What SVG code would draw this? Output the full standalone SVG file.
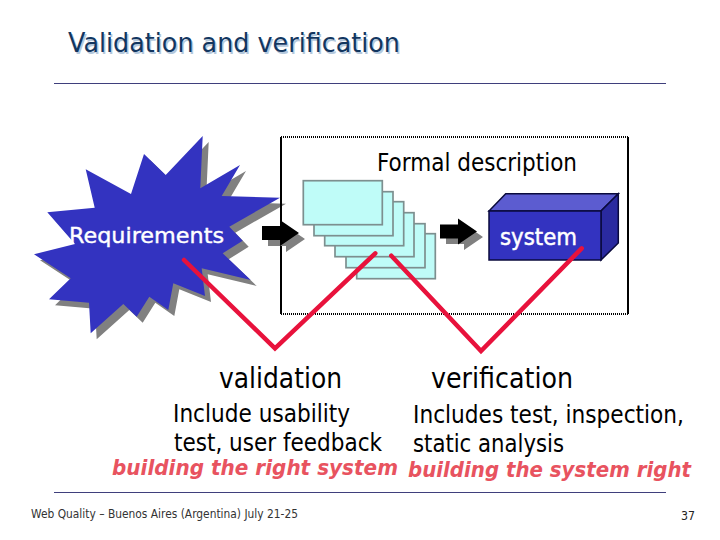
<svg xmlns="http://www.w3.org/2000/svg" width="720" height="540" viewBox="0 0 720 540">
<style>
text{font-family:"DejaVu Sans","Liberation Sans",sans-serif;fill:#000}
.rule{stroke:#3f3f7c;stroke-width:1;fill:none}
.shadow{fill:#808080}
.card{fill:#bffcf8;stroke:#7d8f8f;stroke-width:1.7}
.red{fill:none;stroke:#e8123c;stroke-width:4.5;stroke-linejoin:miter;stroke-linecap:round}
.em{font-size:22px;font-weight:bold;font-style:italic}
</style>
<defs>
<polygon id="star" points="85.7,169.3 131,194 144,154 165.7,175 202.7,136 200.3,188.3 240,165 221.7,196 280,197.7 229.3,226.7 242.7,240.7 222.7,253.3 250.7,280 201.7,268.3 205,296 173.3,283.3 168.3,310 149.3,296.7 136.7,316.7 123.3,304 90.7,333.3 89,302.7 49,299.3 70.7,278.3 34,254.3 75,244 47.3,212.3 94.7,207.7"/>
<polygon id="arrow" points="0,0 18,0 18,-6 37,7 18,20 18,14 0,14"/>
</defs>
<rect width="720" height="540" fill="#fff"/>
<g id="title">
<text x="69.5" y="53.5" font-size="27" textLength="332" lengthAdjust="spacingAndGlyphs" style="fill:#b4c8dc">Validation and verification</text>
<text x="68" y="52" font-size="27" textLength="332" lengthAdjust="spacingAndGlyphs" style="fill:#12365f">Validation and verification</text>
</g>
<line class="rule" x1="54" y1="83.5" x2="666" y2="83.5"/>
<g id="requirements">
<use href="#star" class="shadow" transform="translate(6,6)"/>
<use href="#star" fill="#3333c0"/>
<text x="69" y="243" font-size="22" textLength="155" lengthAdjust="spacingAndGlyphs" style="fill:#fff;stroke:#fff;stroke-width:.4">Requirements</text>
</g>
<g id="formal-description">
<path d="M281,137V314M628,137V314" stroke="#000" stroke-width="2" fill="none"/>
<path d="M281,137H628M281,314H628" stroke="#000" stroke-width="2" stroke-dasharray="1 1" fill="none"/>
<text x="377" y="171" font-size="24" textLength="200" lengthAdjust="spacingAndGlyphs">Formal description</text>
</g>
<g id="documents">
<rect class="card" x="356.7" y="233.7" width="78.6" height="45"/>
<rect class="card" x="346" y="223.7" width="79" height="44"/>
<rect class="card" x="335" y="212.7" width="79" height="44"/>
<rect class="card" x="324.7" y="201.7" width="79" height="44"/>
<rect class="card" x="314" y="191.7" width="79" height="44"/>
<rect class="card" x="303.3" y="180.7" width="79" height="44"/>
</g>
<g id="system">
<polygon points="489,211 505.7,193.7 618.3,193.7 601,211" fill="#5c5cd0" stroke="#0a0a3c" stroke-width="1.5"/>
<polygon points="601,211 618.3,193.7 618.3,243 601,260" fill="#2a2aa0" stroke="#0a0a3c" stroke-width="1.5"/>
<rect x="489" y="211" width="112" height="49" fill="#3333c0" stroke="#0a0a3c" stroke-width="1.5"/>
<text x="500" y="245" font-size="23" textLength="77" lengthAdjust="spacingAndGlyphs" style="fill:#fff;stroke:#fff;stroke-width:.5">system</text>
</g>
<g id="connectors">
<use href="#arrow" class="shadow" transform="translate(268,232)"/>
<use href="#arrow" fill="#000" transform="translate(262,226)"/>
<use href="#arrow" class="shadow" transform="translate(446,230)"/>
<use href="#arrow" fill="#000" transform="translate(440,224.5)"/>
<polyline class="red" points="184,260 275,348.3 375.3,253.3"/>
<polyline class="red" points="391.3,255.7 481,351 581.7,248.3"/>
</g>
<g id="labels">
<text x="219" y="388" font-size="28" textLength="123" lengthAdjust="spacingAndGlyphs">validation</text>
<text x="431" y="388" font-size="28" textLength="142" lengthAdjust="spacingAndGlyphs">verification</text>
<text x="173" y="422" font-size="24" textLength="177" lengthAdjust="spacingAndGlyphs">Include usability</text>
<text x="174" y="451" font-size="24" textLength="208" lengthAdjust="spacingAndGlyphs">test, user feedback</text>
<text x="413" y="423" font-size="24" textLength="271" lengthAdjust="spacingAndGlyphs">Includes test, inspection,</text>
<text x="413" y="452" font-size="24" textLength="151" lengthAdjust="spacingAndGlyphs">static analysis</text>
<text class="em" x="112" y="475" textLength="286" lengthAdjust="spacingAndGlyphs" style="fill:#e8535f">building the right system</text>
<text class="em" x="408" y="477" textLength="283" lengthAdjust="spacingAndGlyphs" style="fill:#e8535f">building the system right</text>
</g>
<line class="rule" x1="54" y1="492.5" x2="666" y2="492.5"/>
<g id="footer">
<text x="31" y="518" font-size="13" textLength="267" lengthAdjust="spacingAndGlyphs" style="fill:#333">Web Quality – Buenos Aires (Argentina) July 21-25</text>
<text x="681" y="520" font-size="13" textLength="14" lengthAdjust="spacingAndGlyphs" style="fill:#222">37</text>
</g>
</svg>
